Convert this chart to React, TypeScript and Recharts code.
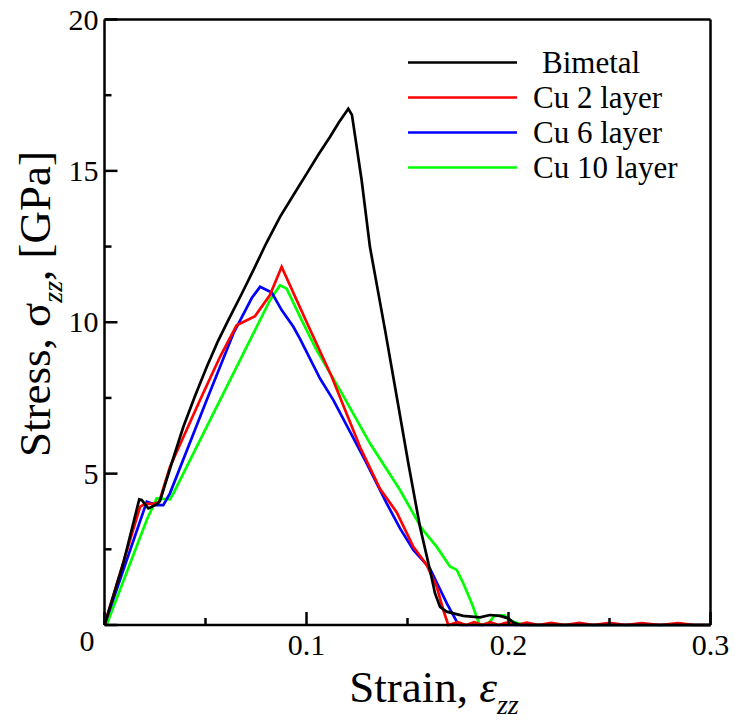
import React from 'react';
import { LineChart, Line, XAxis, YAxis, Legend } from 'recharts';

const FONT = '"Liberation Serif", "Times New Roman", Times, serif';

// ---- data (strain, stress in GPa) ----
const bimetalStrain = [0, 0.0093, 0.0172, 0.0184, 0.0217, 0.0258, 0.0275, 0.0291, 0.034, 0.039, 0.045, 0.0506, 0.056, 0.0613, 0.068, 0.0737, 0.08, 0.0869, 0.094, 0.1001, 0.106, 0.1116, 0.116, 0.1207, 0.1225, 0.1245, 0.1273, 0.1314, 0.1389, 0.1447, 0.1504, 0.1562, 0.1611, 0.1636, 0.1661, 0.1694, 0.1776, 0.1859, 0.1908, 0.1958, 0.1999, 0.2024, 0.2057, 0.3];
const bimetalStress = [0, 2.04, 4.15, 4.13, 3.85, 3.98, 4.1, 4.45, 5.5, 6.54, 7.6, 8.52, 9.35, 10.07, 10.95, 11.72, 12.6, 13.48, 14.25, 14.91, 15.55, 16.12, 16.6, 17.05, 16.85, 15.95, 14.69, 12.49, 9.74, 7.53, 5.34, 3.24, 1.82, 1.05, 0.6, 0.44, 0.3, 0.25, 0.33, 0.3, 0.22, 0.08, 0, 0];

const cu2Strain = [0, 0.0176, 0.02, 0.0242, 0.027, 0.0324, 0.0473, 0.0572, 0.0654, 0.0745, 0.0819, 0.0877, 0.1001, 0.1125, 0.1265, 0.1364, 0.1447, 0.1529, 0.1595, 0.1645, 0.1677, 0.1702, 0.175, 0.179, 0.183, 0.187, 0.191, 0.195, 0.199, 0.204, 0.209, 0.215, 0.221, 0.228, 0.235, 0.242, 0.25, 0.258, 0.266, 0.275, 0.284, 0.292, 0.3];
const cu2Stress = [0, 3.9, 4.0, 4.0, 4.05, 5.22, 7.43, 8.86, 9.9, 10.2, 10.9, 11.83, 10.0, 8.2, 5.88, 4.5, 3.72, 2.58, 1.98, 1.26, 0.5, 0, 0.09, 0, 0.09, 0, 0.09, 0, 0.08, 0, 0.08, 0, 0.07, 0, 0.07, 0, 0.07, 0, 0.06, 0, 0.06, 0, 0];

const cu6Strain = [0, 0.0209, 0.0258, 0.0291, 0.0324, 0.0506, 0.0638, 0.0729, 0.077, 0.0828, 0.0877, 0.0935, 0.0968, 0.1067, 0.1133, 0.1298, 0.1397, 0.1463, 0.1529, 0.1611, 0.1694, 0.1744, 0.176, 0.3];
const cu6Stress = [0, 4.07, 3.96, 3.96, 4.35, 7.43, 9.63, 10.8, 11.17, 10.98, 10.4, 9.85, 9.45, 8.14, 7.43, 5.34, 4.02, 3.19, 2.48, 1.87, 0.72, 0.11, 0, 0];

const cu10Strain = [0.001, 0.0209, 0.0258, 0.0324, 0.0341, 0.0572, 0.0737, 0.0819, 0.0869, 0.0902, 0.0976, 0.105, 0.1166, 0.1314, 0.1463, 0.157, 0.1645, 0.171, 0.1744, 0.1776, 0.1818, 0.1851, 0.1859, 0.19, 0.193, 0.198, 0.201, 0.205, 0.21, 0.3];
const cu10Stress = [0, 3.47, 4.18, 4.15, 4.35, 7.43, 9.63, 10.73, 11.22, 11.11, 10.07, 9.08, 7.76, 6.0, 4.46, 3.19, 2.58, 1.93, 1.82, 1.38, 0.72, 0.11, 0, 0.05, 0.3, 0.32, 0.15, 0.05, 0, 0];

const seriesNames = ['Bimetal', 'Cu 2 layer', 'Cu 6 layer', 'Cu 10 layer'];
const seriesColors = ['#000000', '#ff0000', '#0000ff', '#00ff00'];

const xTicks = [0, 0.05, 0.1, 0.15, 0.2, 0.25, 0.3];
const xMajorLabels = ['0', '0.1', '0.2', '0.3'];
const yTicks = [0, 2.5, 5, 7.5, 10, 12.5, 15, 17.5, 20];
const yMajorLabels = ['0', '5', '10', '15', '20'];

const zip = (xs: number[], ys: number[]) => xs.map((x, i) => ({ strain: x, stress: ys[i] }));
const bimetalData = zip(bimetalStrain, bimetalStress);
const cu2Data = zip(cu2Strain, cu2Stress);
const cu6Data = zip(cu6Strain, cu6Stress);
const cu10Data = zip(cu10Strain, cu10Stress);

const isMajorX = (v: number) => Math.abs(v * 10 - Math.round(v * 10)) < 1e-6;
const isMajorY = (v: number) => Math.abs(v / 5 - Math.round(v / 5)) < 1e-6;
const fmtX = (v: number) => xMajorLabels.find((l) => Math.abs(parseFloat(l) - v) < 1e-6) || '';
const fmtY = (v: number) => yMajorLabels.find((l) => Math.abs(parseFloat(l) - v) < 1e-6) || '';

const MAJ = 13;
const MIN = 7;
const SW = 2.5;
const LW = 2.7;

const BottomTick = (props: any) => {
  const { x, y, payload } = props;
  const v = payload.value;
  const major = isMajorX(v);
  return (
    <g>
      <line x1={x} y1={y} x2={x} y2={y - (major ? MAJ : MIN)} stroke="#000" strokeWidth={SW} />
      {major && v !== 0 && (
        <text x={x} y={y + 30} textAnchor="middle" fontSize={30} fontFamily={FONT} fill="#000">
          {fmtX(v)}
        </text>
      )}
    </g>
  );
};

const TopTick = (props: any) => {
  const { x, y, payload } = props;
  const major = isMajorX(payload.value);
  return <line x1={x} y1={y} x2={x} y2={y + (major ? MAJ : MIN)} stroke="#000" strokeWidth={SW} />;
};

const LeftTick = (props: any) => {
  const { x, y, payload } = props;
  const v = payload.value;
  const major = isMajorY(v);
  return (
    <g>
      <line x1={x} y1={y} x2={x + (major ? MAJ : MIN)} y2={y} stroke="#000" strokeWidth={SW} />
      {major && (
        <text
          x={v === 0 ? x - 10 : x - 6}
          y={v === 0 ? y + 26 : y + 10}
          textAnchor="end"
          fontSize={30}
          fontFamily={FONT}
          fill="#000"
        >
          {fmtY(v)}
        </text>
      )}
    </g>
  );
};

const RightTick = (props: any) => {
  const { x, y, payload } = props;
  const major = isMajorY(payload.value);
  return <line x1={x} y1={y} x2={x - (major ? MAJ : MIN)} y2={y} stroke="#000" strokeWidth={SW} />;
};

const XTitle = () => (
  <text x={434} y={702} textAnchor="middle" fontSize={45} fontFamily={FONT} fill="#000">
    Strain,{' '}
    <tspan fontStyle="italic">ε</tspan>
    <tspan fontStyle="italic" fontSize={28} dy={12}>zz</tspan>
  </text>
);

const YTitle = () => (
  <text
    transform="translate(50, 304) rotate(-90)"
    x={0}
    y={0}
    textAnchor="middle"
    fontSize={45}
    fontFamily={FONT}
    fill="#000"
  >
    Stress,{' '}
    <tspan>σ</tspan>
    <tspan fontStyle="italic" fontSize={28} dy={12}>zz</tspan>
    <tspan dy={-12}>, [GPa]</tspan>
  </text>
);

const LegendContent = () => (
  <svg width={300} height={150} style={{ overflow: 'visible' }}>
    {seriesNames.map((name, i) => {
      const y = 17.5 + 35 * i;
      return (
        <g key={name}>
          <line x1={0} y1={y} x2={109} y2={y} stroke={seriesColors[i]} strokeWidth={LW} />
          <text x={i === 0 ? 134 : 125} y={y + 10} fontSize={31} fontFamily={FONT} fill="#000">
            {name}
          </text>
        </g>
      );
    })}
  </svg>
);

export default function App() {
  return (
    <div>
      <style>{'body{margin:0;}'}</style>
      <LineChart
        width={735}
        height={722}
        margin={{ top: 9.5, right: 14.5, bottom: 37, left: 8.5 }}
        style={{ fontFamily: FONT }}
      >
        <XAxis
          dataKey="strain"
          type="number"
          domain={[0, 0.3]}
          ticks={xTicks}
          interval={0}
          height={60}
          tickSize={0}
          tickMargin={0}
          tickLine={false}
          axisLine={{ stroke: '#000', strokeWidth: SW }}
          tick={<BottomTick />}
          label={{ content: () => <XTitle /> }}
        />
        <XAxis
          xAxisId="top"
          orientation="top"
          dataKey="strain"
          type="number"
          domain={[0, 0.3]}
          ticks={xTicks}
          interval={0}
          height={10}
          tickSize={0}
          tickMargin={0}
          tickLine={false}
          axisLine={{ stroke: '#000', strokeWidth: SW }}
          tick={<TopTick />}
        />
        <YAxis
          type="number"
          domain={[0, 20]}
          ticks={yTicks}
          interval={0}
          width={96}
          tickSize={0}
          tickMargin={0}
          tickLine={false}
          axisLine={{ stroke: '#000', strokeWidth: SW }}
          tick={<LeftTick />}
          label={{ content: () => <YTitle /> }}
        />
        <YAxis
          yAxisId="right"
          orientation="right"
          type="number"
          domain={[0, 20]}
          ticks={yTicks}
          interval={0}
          width={10}
          tickSize={0}
          tickMargin={0}
          tickLine={false}
          axisLine={{ stroke: '#000', strokeWidth: SW }}
          tick={<RightTick />}
        />
        <Legend
          layout="vertical"
          align="center"
          verticalAlign="middle"
          content={() => <LegendContent />}
          wrapperStyle={{ left: 408, top: 44.5, width: 300, height: 150 }}
        />
        <Line data={cu10Data} dataKey="stress" name={seriesNames[3]} stroke={seriesColors[3]} strokeWidth={LW} dot={false} isAnimationActive={false} />
        <Line data={cu6Data} dataKey="stress" name={seriesNames[2]} stroke={seriesColors[2]} strokeWidth={LW} dot={false} isAnimationActive={false} />
        <Line data={cu2Data} dataKey="stress" name={seriesNames[1]} stroke={seriesColors[1]} strokeWidth={LW} dot={false} isAnimationActive={false} />
        <Line data={bimetalData} dataKey="stress" name={seriesNames[0]} stroke={seriesColors[0]} strokeWidth={LW} dot={false} isAnimationActive={false} />
      </LineChart>
    </div>
  );
}
